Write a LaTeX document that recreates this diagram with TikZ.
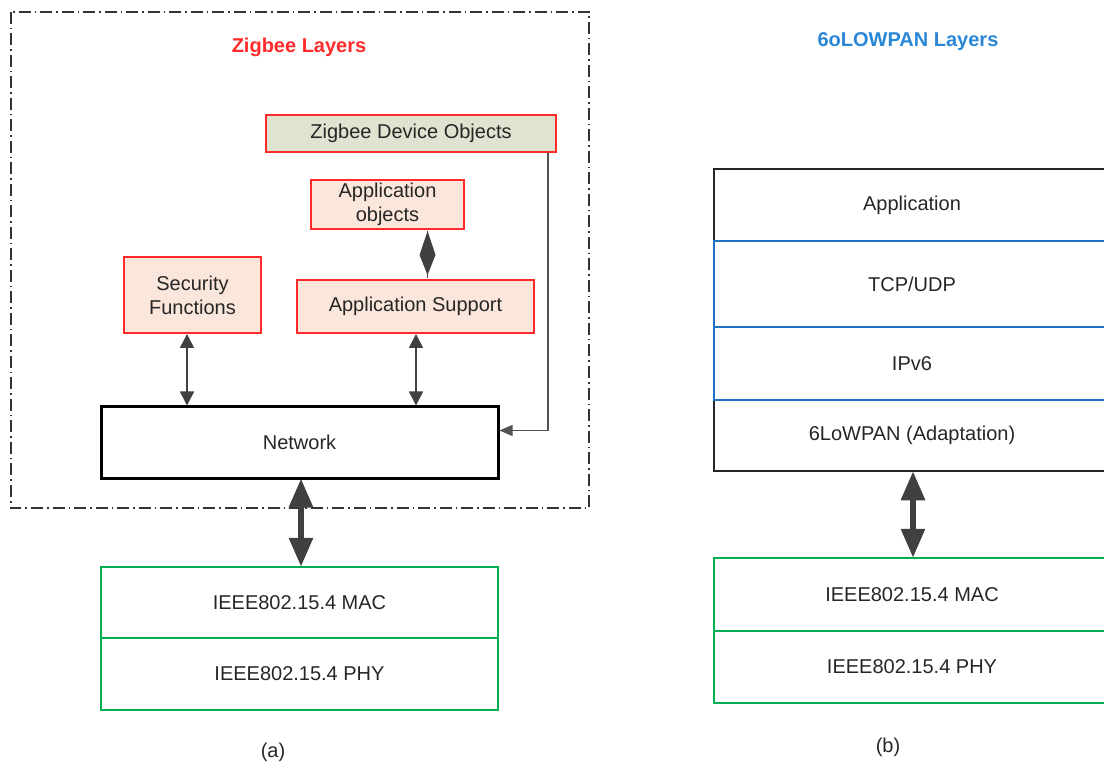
\documentclass[tikz,border=0pt]{standalone}
\usepackage{fontspec}
\setmainfont{Liberation Sans}
\usetikzlibrary{arrows.meta,calc}
\definecolor{zred}{HTML}{FF2A2A}
\definecolor{peach}{HTML}{FAE6DA}
\definecolor{zdofill}{HTML}{DEE4D0}
\definecolor{zgreen}{HTML}{00B050}
\definecolor{zblue}{HTML}{1F72C4}
\definecolor{tblue}{HTML}{2A86D6}
\definecolor{arr}{HTML}{404040}
\definecolor{txt}{HTML}{262626}
\tikzset{
  lbl/.style={font=\fontsize{20}{24}\selectfont, text=txt, align=center, inner sep=0pt},
  redbox/.style={lbl, draw=zred, line width=2pt, fill=peach},
  netbox/.style={lbl, draw=black, line width=3pt, fill=white},
  greenbox/.style={lbl, draw=zgreen, line width=2.5pt},
  blkbox/.style={lbl, draw=black!85, line width=2.5pt},
  bluebox/.style={lbl, draw=zblue, line width=2.5pt},
  smallarr/.style={draw=arr, line width=1.5pt, {Triangle[length=14pt,width=14pt]}-{Triangle[length=14pt,width=14pt]}},
  bigarr/.style={draw=arr, line width=6pt, {Triangle[length=29pt,width=23pt]}-{Triangle[length=29pt,width=23pt]}, shorten <=-1pt, shorten >=-1pt},
  title/.style={font=\bfseries\fontsize{20}{24}\selectfont, inner sep=0pt},
}
\begin{document}
\begin{tikzpicture}[x=1pt,y=-1pt]
\useasboundingbox (0,0) rectangle (1104,767);
\clip (0,0) rectangle (1104,767);
% left frame
\draw[draw=black!80, line width=1.2pt, dash pattern=on 12pt off 4pt on 1.5pt off 4pt] (11,12) rectangle (589,508);
\node[title, text=zred] (zt) at (299,47) {Zigbee Layers};
\node[redbox, fill=zdofill, minimum width=290pt, minimum height=37pt] (zdo) at (411,133.5) {Zigbee Device Objects};
\node[redbox, minimum width=153pt, minimum height=49pt] (ao) at (387.5,204.5) {Application\\objects};
\node[redbox, minimum width=137pt, minimum height=76pt] (sec) at (192.5,295) {Security\\Functions};
\node[redbox, minimum width=237pt, minimum height=53pt] (as) at (415.5,306.5) {Application Support};
\node[netbox, minimum width=397pt, minimum height=71pt] (net) at (299.5,442.5) {Network};
\node[greenbox, minimum width=397pt, minimum height=71pt] (mac) at (299.5,602.5) {IEEE802.15.4 MAC};
\node[greenbox, minimum width=397pt, minimum height=72pt] (phy) at (299.5,674) {IEEE802.15.4 PHY};
\node[lbl] (la) at (273,752) {(a)};
% connectors left
\coordinate (dtop) at ($(ao.south)+(40,1)$);
\coordinate (dbot) at ($(as.north)+(12,-1)$);
\draw[draw=arr, line width=1.5pt] (dtop) -- (dbot);
\fill[arr] (dtop) -- ++(8,24) -- ($(dbot)+(0,-3)$) -- ($(dtop)+(-8,24)$) -- cycle;
\draw[smallarr] (sec.south -| 187,0) -- (net.north -| 187,0);
\draw[smallarr] (as.south -| 416,0) -- (net.north -| 416,0);
\coordinate (zdoout) at ($(zdo.south east)+(-9,0)$);
\coordinate (netin) at ($(net.east)+(0,-12)$);
\draw[draw=arr!90, line width=1.3pt, -{Triangle[length=13pt,width=11pt]}] (zdoout) |- (netin);
\draw[bigarr] (net.south -| 301,0) -- (mac.north -| 301,0);
% right side
\node[title, text=tblue] (bt) at (908,42) {6oLOWPAN Layers};
\node[blkbox, minimum width=396pt, minimum height=72pt] (app) at (912,205) {Application};
\node[blkbox, minimum width=396pt, minimum height=71pt] (lowpan) at (912,435.5) {6LoWPAN (Adaptation)};
\node[bluebox, minimum width=396pt, minimum height=86pt] (tcp) at (912,284) {TCP/UDP};
\node[bluebox, minimum width=396pt, minimum height=73pt] (ip) at (912,363.5) {IPv6};
\node[greenbox, minimum width=396pt, minimum height=73pt] (mac2) at (912,594.5) {IEEE802.15.4 MAC};
\node[greenbox, minimum width=396pt, minimum height=72pt] (phy2) at (912,667) {IEEE802.15.4 PHY};
\node[lbl] (lb) at (888,747) {(b)};
\draw[bigarr] (lowpan.south -| 913,0) -- (mac2.north -| 913,0);
\end{tikzpicture}
\end{document}
